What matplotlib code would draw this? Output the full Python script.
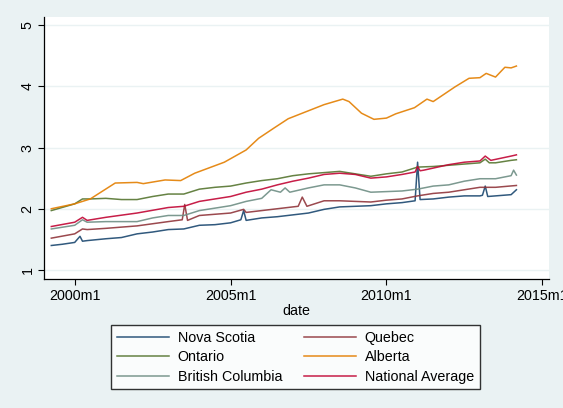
import matplotlib.pyplot as plt

# decimal-year dates and values
ns_dates = [1999.25, 1999.6, 2000.0, 2000.17, 2000.25, 2000.4, 2001.0, 2001.5, 2002.0, 2002.5,
            2003.0, 2003.5, 2004.0, 2004.5, 2005.0, 2005.33, 2005.42, 2005.5, 2006.0, 2006.5,
            2007.0, 2007.5, 2008.0, 2008.5, 2009.0, 2009.5, 2010.0, 2010.5, 2010.92, 2011.0,
            2011.08, 2011.5, 2012.0, 2012.5, 2013.0, 2013.08, 2013.17, 2013.25, 2013.5, 2014.0, 2014.17]
ns_vals = [1.40, 1.42, 1.45, 1.55, 1.47, 1.48, 1.51, 1.53, 1.59, 1.62,
           1.66, 1.67, 1.73, 1.74, 1.77, 1.82, 1.97, 1.81, 1.85, 1.87,
           1.90, 1.93, 1.99, 2.03, 2.04, 2.05, 2.08, 2.10, 2.13, 2.76,
           2.15, 2.16, 2.19, 2.21, 2.21, 2.22, 2.37, 2.20, 2.21, 2.23, 2.31]

qc_dates = [1999.25, 2000.0, 2000.25, 2000.4, 2001.0, 2002.0, 2003.0, 2003.45, 2003.53, 2003.62,
            2004.0, 2005.0, 2005.42, 2005.5, 2006.0, 2007.0, 2007.17, 2007.3, 2007.45, 2008.0,
            2008.5, 2009.0, 2009.5, 2010.0, 2010.5, 2011.0, 2011.5, 2012.0, 2012.5, 2013.0,
            2013.5, 2014.17]
qc_vals = [1.52, 1.59, 1.67, 1.66, 1.68, 1.72, 1.79, 1.82, 2.07, 1.81,
           1.89, 1.93, 1.99, 1.94, 1.97, 2.03, 2.04, 2.19, 2.04, 2.13,
           2.13, 2.12, 2.11, 2.14, 2.16, 2.21, 2.25, 2.27, 2.31, 2.35,
           2.35, 2.38]

on_dates = [1999.25, 2000.0, 2000.25, 2000.5, 2001.0, 2001.5, 2002.0, 2002.5, 2003.0, 2003.5,
            2004.0, 2004.5, 2005.0, 2005.5, 2006.0, 2006.5, 2007.0, 2007.5, 2008.0, 2008.5,
            2009.0, 2009.5, 2010.0, 2010.5, 2011.0, 2011.5, 2012.0, 2012.5, 2013.0, 2013.17,
            2013.3, 2013.5, 2014.0, 2014.17]
on_vals = [1.97, 2.08, 2.16, 2.16, 2.17, 2.15, 2.15, 2.20, 2.24, 2.24,
           2.32, 2.35, 2.37, 2.42, 2.46, 2.49, 2.54, 2.57, 2.59, 2.61,
           2.57, 2.53, 2.57, 2.60, 2.68, 2.69, 2.71, 2.73, 2.75, 2.81,
           2.75, 2.75, 2.79, 2.80]

ab_dates = [1999.25, 2000.0, 2000.5, 2001.3, 2002.0, 2002.2, 2002.9, 2003.4, 2003.85, 2004.8,
            2005.5, 2005.9, 2006.4, 2006.85, 2007.3, 2008.0, 2008.6, 2008.8, 2009.2, 2009.6,
            2010.0, 2010.3, 2010.9, 2011.3, 2011.5, 2012.2, 2012.65, 2013.0, 2013.2, 2013.5,
            2013.8, 2014.0, 2014.17]
ab_vals = [2.00, 2.08, 2.16, 2.42, 2.43, 2.41, 2.47, 2.46, 2.58, 2.76,
           2.96, 3.15, 3.32, 3.47, 3.56, 3.70, 3.79, 3.75, 3.56, 3.46,
           3.48, 3.55, 3.65, 3.79, 3.75, 3.99, 4.13, 4.14, 4.21, 4.15,
           4.31, 4.30, 4.33]

bc_dates = [1999.25, 2000.0, 2000.25, 2000.4, 2001.0, 2002.0, 2002.5, 2003.0, 2003.5, 2004.0,
            2004.5, 2005.0, 2005.5, 2006.0, 2006.3, 2006.6, 2006.75, 2006.9, 2007.5, 2008.0,
            2008.5, 2009.0, 2009.5, 2010.0, 2010.5, 2011.0, 2011.5, 2012.0, 2012.5, 2013.0,
            2013.5, 2014.0, 2014.08, 2014.17]
bc_vals = [1.67, 1.73, 1.82, 1.78, 1.79, 1.79, 1.85, 1.89, 1.89, 1.97,
           2.01, 2.05, 2.12, 2.17, 2.31, 2.27, 2.34, 2.27, 2.34, 2.39,
           2.39, 2.34, 2.27, 2.28, 2.29, 2.32, 2.37, 2.39, 2.45, 2.49,
           2.49, 2.54, 2.63, 2.55]

na_dates = [1999.25, 2000.0, 2000.25, 2000.4, 2001.0, 2002.0, 2003.0, 2003.5, 2004.0, 2004.5,
            2005.0, 2005.5, 2006.0, 2006.5, 2007.0, 2007.5, 2008.0, 2008.5, 2009.0, 2009.5,
            2010.0, 2010.5, 2010.92, 2011.0, 2011.08, 2011.2, 2012.0, 2012.5, 2013.0, 2013.17,
            2013.35, 2014.0, 2014.17]
na_vals = [1.71, 1.78, 1.86, 1.81, 1.86, 1.93, 2.02, 2.04, 2.12, 2.16,
           2.20, 2.27, 2.32, 2.39, 2.45, 2.50, 2.56, 2.58, 2.56, 2.50,
           2.52, 2.56, 2.60, 2.69, 2.62, 2.63, 2.72, 2.76, 2.78, 2.86,
           2.79, 2.86, 2.88]

series = [
    ("Nova Scotia", ns_dates, ns_vals, "#1a476f"),
    ("Quebec", qc_dates, qc_vals, "#90353b"),
    ("Ontario", on_dates, on_vals, "#55752f"),
    ("Alberta", ab_dates, ab_vals, "#e37e00"),
    ("British Columbia", bc_dates, bc_vals, "#6e8e84"),
    ("National Average", na_dates, na_vals, "#c10534"),
]

x_ticks = [2000, 2005, 2010, 2015]
x_labels = ["2000m1", "2005m1", "2010m1", "2015m1"]
y_ticks = [1, 2, 3, 4, 5]

plt.rcParams['font.family'] = ['Liberation Sans', 'DejaVu Sans']

bg = "#eaf2f3"
W, H = 563, 408
fig = plt.figure(figsize=(W / 100, H / 100), dpi=100, facecolor=bg)
ax = fig.add_axes([44.3 / W, 1 - 279.3 / H, (549.3 - 44.3) / W, (279.3 - 16.5) / H])
ax.set_facecolor("white")

handles = []
for name, d, v, c in series:
    ln, = ax.plot(d, v, color=c, lw=1.1, label=name, alpha=0.9)
    handles.append(ln)

ax.set_xlim(1999.025, 2015.225)
ax.set_ylim(0.848, 5.139)
ax.set_xticks(x_ticks)
ax.set_xticklabels(x_labels)
ax.set_yticks(y_ticks)
ax.set_yticklabels([str(t) for t in y_ticks], rotation=90, va="center")
ax.tick_params(direction="out", length=4, width=0.8, labelsize=10.3, colors="black", pad=3)
ax.yaxis.grid(True, color=bg, lw=1.0)
ax.set_axisbelow(True)
for s in ["top", "right"]:
    ax.spines[s].set_visible(False)
for s in ["left", "bottom"]:
    ax.spines[s].set_color("black")
    ax.spines[s].set_linewidth(0.9)
ax.set_xlabel("date", fontsize=10.3, labelpad=1)

# legend is filled row by row, matplotlib fills columns, so reorder
order = [0, 2, 4, 1, 3, 5]
leg = fig.legend([handles[i] for i in order], [series[i][0] for i in order],
                 loc="upper left", bbox_to_anchor=(111 / W, 1 - 325 / H), ncol=2,
                 fontsize=10.3, frameon=True, fancybox=False, edgecolor="black",
                 handlelength=3.64, handletextpad=0.63, columnspacing=1.49,
                 labelspacing=0.38, borderpad=0.4, borderaxespad=0)
leg.get_frame().set_linewidth(1.0)

fig.savefig("out.png", dpi=100, facecolor=bg)
